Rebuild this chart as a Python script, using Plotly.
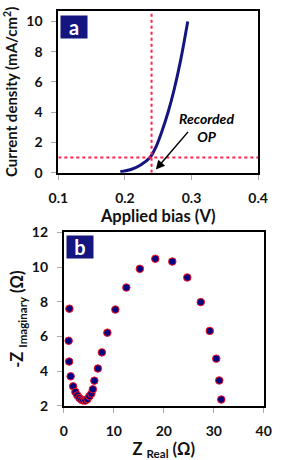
import plotly.graph_objects as go

# Panel a: current density vs applied bias
bias_v = [0.193, 0.209, 0.223, 0.238, 0.2465, 0.2557, 0.265, 0.274, 0.2836, 0.2943]
current_ma = [0.06, 0.21, 0.49, 1.02, 1.70, 2.76, 4.03, 5.52, 7.43, 10.0]
op_bias = 0.24
op_current = 1.0

# Panel b: Nyquist plot
z_real = [1.1, 0.95, 1.05, 1.35, 1.85, 2.3, 2.7, 3.1, 3.5, 3.9, 4.3, 4.7, 5.1, 5.5, 5.8,
          6.1, 6.8, 7.6, 8.7, 10.3, 12.5, 15.2, 18.3, 21.7, 24.7, 27.4, 29.2, 30.5, 31.1, 31.5]
z_imag = [7.6, 5.75, 4.55, 3.7, 3.12, 2.8, 2.6, 2.45, 2.35, 2.3, 2.3, 2.38, 2.55, 2.7, 2.95,
          3.45, 4.15, 5.08, 6.22, 7.55, 8.82, 9.9, 10.48, 10.32, 9.4, 7.98, 6.32, 4.72, 3.46, 2.36]

W, H = 283, 460
NAVY = "#15157f"
RED = "#ff2050"
FONT = "Lato"
TXT = "#111"

fig = go.Figure()

fig.add_trace(go.Scatter(x=bias_v, y=current_ma, mode="lines", line=dict(color=NAVY, width=3, shape="spline"),
                         xaxis="x", yaxis="y", showlegend=False))
fig.add_trace(go.Scatter(x=[0.1, 0.4], y=[op_current, op_current], mode="lines",
                         line=dict(color=RED, width=2, dash="dot"), xaxis="x", yaxis="y", showlegend=False))
fig.add_trace(go.Scatter(x=[op_bias, op_bias], y=[0, 10.7], mode="lines",
                         line=dict(color=RED, width=2, dash="dot"), xaxis="x", yaxis="y", showlegend=False))

fig.add_trace(go.Scatter(x=z_real, y=z_imag, mode="markers",
                         marker=dict(color="#000080", size=7.5, line=dict(color="#ff1020", width=1)),
                         xaxis="x2", yaxis="y2", showlegend=False))

axcommon = dict(showline=True, mirror=True, linecolor="black", linewidth=2, showgrid=False,
                zeroline=False, ticks="outside", ticklen=5, tickcolor="#aaa", ticklabelstandoff=6,
                tickfont=dict(family=FONT, size=14, color=TXT, weight="bold"))
titlefont = dict(family=FONT, size=16.5, color=TXT, weight="bold")
ytitlefont = dict(family=FONT, size=15, color=TXT, weight="bold")

fig.update_layout(
    width=W, height=H, margin=dict(l=0, r=0, t=0, b=0),
    paper_bgcolor="white", plot_bgcolor="white",
    xaxis=dict(domain=[52/W, 267/W], anchor="y", range=[0.1, 0.4], tickvals=[0.1, 0.2, 0.3, 0.4],
               ticktext=["0.1", "0.2", "0.3", "0.4"],
               title=dict(text="Applied bias (V)", font=titlefont, standoff=6),
               **axcommon),
    yaxis=dict(domain=[(H-170)/H, (H-2)/H], anchor="x", range=[0, 10.7], tickvals=[0, 2, 4, 6, 8, 10],
               title=dict(text="Current density (mA/cm<sup>2</sup>)", font=ytitlefont, standoff=5),
               **axcommon),
    xaxis2=dict(domain=[58/W, 273/W], anchor="y2", range=[0, 40], tickvals=[0, 10, 20, 30, 40],
                title=dict(text="Z <sub>Real</sub> (Ω)", font=titlefont, standoff=6),
                **axcommon),
    yaxis2=dict(domain=[(H-412)/H, (H-232)/H], anchor="x2", range=[2, 12], tickvals=[2, 4, 6, 8, 10, 12],
                title=dict(text="-Z <sub>Imaginary</sub> (Ω)", font=titlefont, standoff=4),
                **axcommon),
    annotations=[
        dict(x=54/W, y=1-6/H, xref="paper", yref="paper", xanchor="left", yanchor="top",
             text="<b>a</b>", showarrow=False, bgcolor=NAVY, font=dict(family=FONT, size=20, color="white"),
             width=24, height=20),
        dict(x=60/W, y=1-235/H, xref="paper", yref="paper", xanchor="left", yanchor="top",
             text="<b>b</b>", showarrow=False, bgcolor=NAVY, font=dict(family=FONT, size=20, color="white"),
             width=24, height=20),
        dict(x=0.2464, y=0.21, ax=0.2967, ay=2.8, xref="x", yref="y", axref="x", ayref="y",
             showarrow=True, arrowhead=2, arrowsize=1.2, arrowwidth=1.5, arrowcolor="black", text=""),
        dict(x=0.323, y=3.0, xref="x", yref="y", showarrow=False,
             text="<b><i>Recorded<br>OP</i></b>", font=dict(family=FONT, size=14, color="black"), align="center"),
    ],
)

fig.write_html("out.html", config={"displayModeBar": False},
               post_script="document.body.style.margin='0';document.body.style.padding='0';")
